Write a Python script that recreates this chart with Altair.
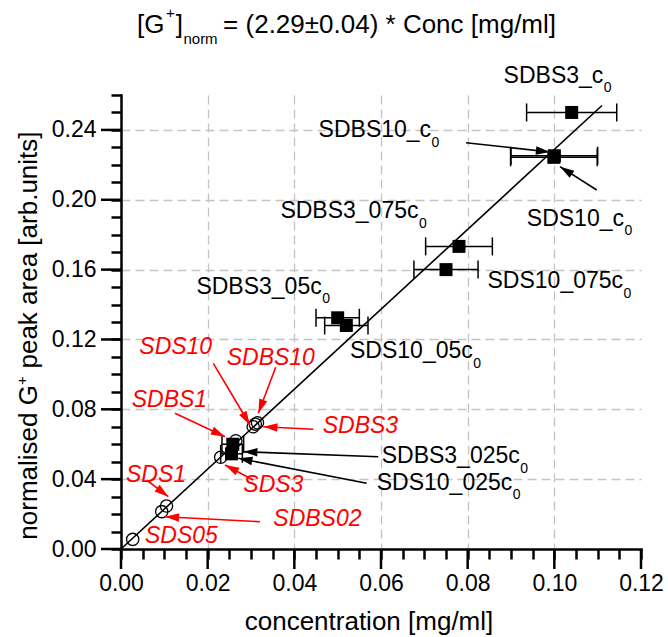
import math
import altair as alt
import pandas as pd

FONT = "Liberation Sans"

# ---------------- data ----------------
sq_names = ["SDBS3_c0", "SDBS10_c0", "SDS10_c0", "SDBS3_075c0", "SDS10_075c0",
            "SDBS3_05c0", "SDS10_05c0", "SDBS3_025c0", "SDS10_025c0"]
sq_x = [0.1040, 0.1000, 0.0999, 0.0780, 0.0750, 0.0500, 0.0520, 0.0258, 0.0255]
sq_y = [0.2500, 0.2252, 0.2243, 0.1733, 0.1600, 0.1324, 0.1280, 0.0600, 0.0545]
sq_xerr = [0.0104, 0.0100, 0.0100, 0.0077, 0.0074, 0.0050, 0.0050, 0.0025, 0.0025]

circ_names = ["SDS05", "SDS1", "SDBS02", "SDS3", "SDBS1", "SDS10", "SDBS10", "SDBS3"]
circ_x = [0.0027, 0.0094, 0.0105, 0.0230, 0.0265, 0.0305, 0.0310, 0.0315]
circ_y = [0.0055, 0.0214, 0.0246, 0.0525, 0.0620, 0.0700, 0.0715, 0.0723]

fit_x = [0.0, 0.111]
fit_y = [0.0, 0.254]

x_ticks = [0.0, 0.005, 0.01, 0.015, 0.02, 0.025, 0.03, 0.035, 0.04, 0.045, 0.05,
           0.055, 0.06, 0.065, 0.07, 0.075, 0.08, 0.085, 0.09, 0.095, 0.10,
           0.105, 0.11, 0.115, 0.12]
y_ticks = [0.0, 0.01, 0.02, 0.03, 0.04, 0.05, 0.06, 0.07, 0.08, 0.09, 0.10,
           0.11, 0.12, 0.13, 0.14, 0.15, 0.16, 0.17, 0.18, 0.19, 0.20,
           0.21, 0.22, 0.23, 0.24, 0.25, 0.26]
x_major = [0.0, 0.02, 0.04, 0.06, 0.08, 0.10, 0.12]
y_major = [0.0, 0.04, 0.08, 0.12, 0.16, 0.20, 0.24]

# black annotation labels (main text + subscript "0"), left/baseline in data units
blab_text = ["SDBS3_c", "SDBS10_c", "SDS10_c", "SDBS3_075c", "SDS10_075c",
             "SDBS3_05c", "SDS10_05c", "SDBS3_025c", "SDS10_025c"]
blab_x = [0.08829, 0.04560, 0.09365, 0.03678, 0.08458, 0.01740, 0.05285, 0.06016, 0.05901]
blab_y = [0.26704, 0.23578, 0.18498, 0.18939, 0.14930, 0.14604, 0.10921, 0.04925, 0.03379]

# red annotation labels
rlab_text = ["SDS10", "SDBS10", "SDBS1", "SDBS3", "SDS3", "SDS1", "SDBS02", "SDS05"]
rlab_x = [0.00422, 0.02439, 0.00247, 0.04655, 0.02822, 0.00115, 0.03515, 0.00554]
rlab_y = [0.11167, 0.10537, 0.08115, 0.06626, 0.03281, 0.03854, 0.01317, 0.00326]

# arrows: start -> tip (data units)
arr_sx = [0.02130, 0.03570, 0.01246, 0.04438, 0.03053, 0.00593, 0.03208,
          0.05938, 0.05670, 0.07962, 0.10978]
arr_sy = [0.10635, 0.10406, 0.07771, 0.06855, 0.03952, 0.03952, 0.01563,
          0.05286, 0.03763, 0.23268, 0.20559]
arr_tx = [0.02977, 0.03168, 0.02400, 0.03284, 0.02400, 0.01092, 0.01015,
          0.02822, 0.02707, 0.09900, 0.10131]
arr_ty = [0.07101, 0.07771, 0.06431, 0.07004, 0.04811, 0.02995, 0.01850,
          0.05572, 0.05194, 0.22736, 0.21894]
arr_col = ["#ff0000"] * 7 + ["#000000"] * 4

# ---------------- layout ----------------
W_PX, H_PX = 520, 454
XMAX, YMAX = 0.12, 0.26
SX, SY = W_PX / XMAX, H_PX / YMAX

AW = {' ': 278, '(': 333, ')': 333, '*': 389, '+': 584, '.': 278, '/': 278, '=': 584,
      'B': 667, 'C': 722, 'D': 722, 'G': 778, 'S': 667, '[': 278, ']': 278, '_': 556,
      'a': 556, 'b': 556, 'c': 500, 'd': 556, 'e': 556, 'g': 556, 'i': 222, 'k': 500,
      'l': 222, 'm': 833, 'n': 556, 'o': 556, 'p': 556, 'r': 333, 's': 500, 't': 278,
      'u': 556, '±': 549}


def tw(s, size):
    return sum(AW.get(ch, 556) for ch in s) * size / 1000.0


LAB = 23
SUB = 14

xsc = alt.Scale(domain=[0, XMAX], nice=False, zero=False)
ysc = alt.Scale(domain=[0, YMAX], nice=False, zero=False)

maj_x = "round(datum.value*1000) % 20 === 0"
maj_y = "round(datum.value*100) % 4 === 0"

ax_x = alt.Axis(values=x_ticks, title=None, domainColor="black", domainWidth=2.5,
                domainCap="square",
                tickColor="black", tickWidth=2.5, tickSize=10,
                labelExpr=f"{maj_x} ? format(datum.value, '.2f') : ''",
                labelFont=FONT, labelFontSize=LAB, labelColor="black",
                labelPadding=13, labelFlush=False, labelOverlap=False,
                grid=True, gridColor="#c4c4c4", gridDash=[9, 5], gridWidth=1.3,
                gridOpacity={"condition": {"test": f"{maj_x} && datum.value > 0.001 && datum.value < 0.119",
                                           "value": 1}, "value": 0})
ax_y = alt.Axis(values=y_ticks, title=None, domainColor="black", domainWidth=2.5,
                domainCap="square",
                tickColor="black", tickWidth=2.5, tickSize=10,
                labelExpr=f"{maj_y} ? format(datum.value, '.2f') : ''",
                labelFont=FONT, labelFontSize=LAB, labelColor="black",
                labelPadding=15, labelFlush=False, labelOverlap=False,
                grid=True, gridColor="#c4c4c4", gridDash=[9, 5], gridWidth=1.3,
                gridOpacity={"condition": {"test": f"{maj_y} && datum.value > 0.001",
                                           "value": 1}, "value": 0})


def X(f, **kw):
    return alt.X(f, scale=xsc, axis=ax_x, **kw)


def Y(f, **kw):
    return alt.Y(f, scale=ysc, axis=ax_y, **kw)


# ---------------- tables ----------------
fit_df = pd.DataFrame({"x": fit_x, "y": fit_y})
sq_df = pd.DataFrame({"name": sq_names, "x": sq_x, "y": sq_y, "err": sq_xerr})
sq_df["xlo"] = sq_df["x"] - sq_df["err"]
sq_df["xhi"] = sq_df["x"] + sq_df["err"]
cap_df = pd.DataFrame({"x": list(sq_df["xlo"]) + list(sq_df["xhi"]),
                       "y": sq_y + sq_y})
circ_df = pd.DataFrame({"name": circ_names, "x": circ_x, "y": circ_y})

blab_df = pd.DataFrame({"t": blab_text, "x": blab_x, "y": blab_y})
bsub_df = pd.DataFrame({"t": ["0"] * len(blab_text),
                        "x": [bx + (tw(t, LAB) + 0.5) / SX for t, bx in zip(blab_text, blab_x)],
                        "y": [by - 9.5 / SY for by in blab_y]})
rlab_df = pd.DataFrame({"t": rlab_text, "x": rlab_x, "y": rlab_y})

angs = []
for sx_, sy_, tx_, ty_ in zip(arr_sx, arr_sy, arr_tx, arr_ty):
    dx = (tx_ - sx_) * SX
    dyv = (ty_ - sy_) * SY
    angs.append(math.degrees(math.atan2(dx, dyv)) % 360)
arr_df = pd.DataFrame({"x": arr_sx, "y": arr_sy, "x2": arr_tx, "y2": arr_ty,
                       "tx": arr_tx, "ty": arr_ty, "col": arr_col, "ang": angs})

# ---------------- layers ----------------
xmaj = alt.Chart(pd.DataFrame({"x": x_major})).mark_rule(
    color="black", strokeWidth=2.5).encode(
    x=X("x:Q"), y=alt.value(H_PX), y2=alt.value(H_PX + 20))
ymaj = alt.Chart(pd.DataFrame({"y": y_major})).mark_rule(
    color="black", strokeWidth=2.5).encode(
    y=Y("y:Q"), x=alt.value(0), x2=alt.value(-20))

fit = alt.Chart(fit_df).mark_line(color="black", strokeWidth=1.6).encode(
    x=X("x:Q"), y=Y("y:Q"))

ebar = alt.Chart(sq_df).mark_rule(color="black", strokeWidth=1.5).encode(
    x=X("xlo:Q"), x2="xhi:Q", y=Y("y:Q"))

caps = alt.Chart(cap_df).mark_tick(orient="vertical", color="black", size=18,
                                   thickness=1.5, opacity=1).encode(
    x=X("x:Q"), y=Y("y:Q"))

squares = alt.Chart(sq_df).mark_point(shape="square", filled=True, size=169,
                                      color="black", opacity=1).encode(
    x=X("x:Q"), y=Y("y:Q"))

circles = alt.Chart(circ_df).mark_point(shape="circle", filled=False, size=150,
                                        color="black", strokeWidth=1.3, opacity=1).encode(
    x=X("x:Q"), y=Y("y:Q"))

arr_lines = alt.Chart(arr_df).mark_rule(strokeWidth=1.6).encode(
    x=X("x:Q"), y=Y("y:Q"), x2="x2:Q", y2="y2:Q",
    color=alt.Color("col:N", scale=None))

arr_heads = alt.Chart(arr_df).mark_point(shape="M0,0L-0.6,2L0.6,2Z", filled=True,
                                         size=200, opacity=1, strokeWidth=0).encode(
    x=X("tx:Q"), y=Y("ty:Q"),
    color=alt.Color("col:N", scale=None),
    angle=alt.Angle("ang:Q", scale=None))

blab = alt.Chart(blab_df).mark_text(align="left", baseline="alphabetic", font=FONT,
                                    fontSize=LAB, color="black").encode(
    x=X("x:Q"), y=Y("y:Q"), text="t:N")
bsub = alt.Chart(bsub_df).mark_text(align="left", baseline="alphabetic", font=FONT,
                                    fontSize=SUB, color="black").encode(
    x=X("x:Q"), y=Y("y:Q"), text="t:N")
rlab = alt.Chart(rlab_df).mark_text(align="left", baseline="alphabetic", font=FONT,
                                    fontSize=LAB, fontStyle="italic", color="#ff0000").encode(
    x=X("x:Q"), y=Y("y:Q"), text="t:N")


def ptext(txt, x, y, size, angle=0, align="left"):
    return alt.Chart(alt.Data(values=[{"a": 1}])).mark_text(
        text=txt, align=align, baseline="alphabetic", font=FONT, fontSize=size,
        color="black", angle=angle).encode(x=alt.value(x), y=alt.value(y))


# title pieces (pixel offsets relative to plot origin)
T = 26
tx0, tby = 16, -62.5
p1 = "[G"
title_layers = [
    ptext(p1, tx0, tby, T),
    ptext("+", tx0 + tw(p1, T) + 1.5, tby - 15, 15),
    ptext("]", tx0 + tw(p1, T) + 1.5 + tw("+", 15) + 1, tby, T),
]
after = tx0 + tw(p1, T) + 1.5 + tw("+", 15) + 1 + tw("]", T)
title_layers.append(ptext("norm", after + 0.5, tby + 11, 15))
title_layers.append(ptext("= (2.29±0.04) * Conc [mg/ml]", after + tw("norm", 15) + 6, tby, T))

# x axis title
xt = ptext("concentration [mg/ml]", 248, 535, T, align="center")

# y axis title (rotated)
YT = 26
ybx = -84
yjoin = 290
ytitle = [
    ptext("normalised G", ybx, yjoin, YT, angle=270, align="right"),
    ptext("+", ybx - 10, yjoin, 15, angle=270, align="left"),
    ptext("peak area [arb.units]", ybx, yjoin - tw("+", 15) - 0.5 - tw(" ", YT), YT,
          angle=270, align="left"),
]

chart = alt.layer(
    fit, xmaj, ymaj, ebar, caps, squares, circles, arr_lines, arr_heads, blab, bsub, rlab,
    *title_layers, xt, *ytitle
).properties(
    width=W_PX, height=H_PX,
    autosize=alt.AutoSizeParams(type="none"),
    padding={"left": 121, "top": 95, "right": 27, "bottom": 88},
    background="white",
).configure_view(stroke=None)

chart.save("out.html", embed_options={"renderer": "svg", "actions": False})
